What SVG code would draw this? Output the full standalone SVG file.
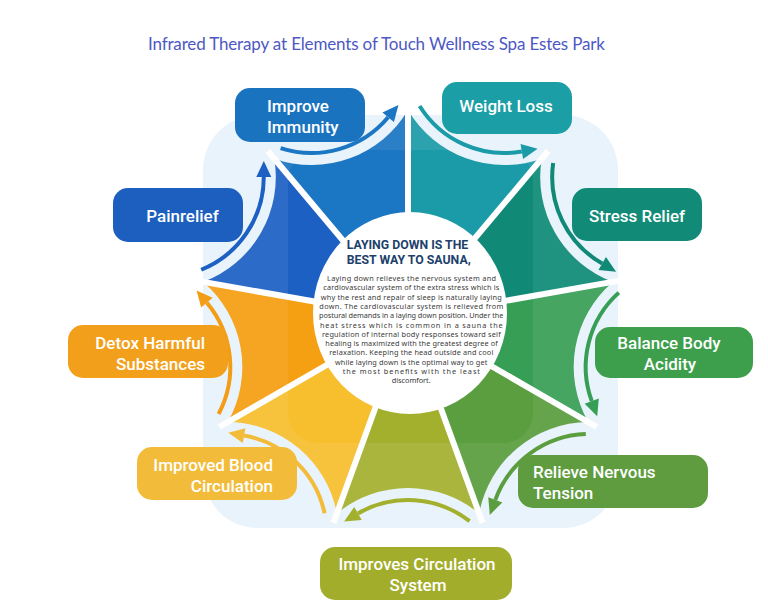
<svg xmlns="http://www.w3.org/2000/svg" width="768" height="610" viewBox="0 0 768 610">
<defs>
<path id="seg" d="M0,0 L-71.14,-195.46 A112,112 0 0 0 71.14,-195.46 Z"/>
<g id="arr">
<path d="M-61.6,-203.2 A100,100 0 0 0 50,-195.4" fill="none" stroke="currentColor" stroke-width="4"/>
<polygon points="63.9,-203.4 53.75,-188.9 46.25,-201.9" fill="currentColor"/>
</g>
</defs>
<style>
.lbl{font-family:Roboto,"Open Sans",sans-serif;font-size:17px;font-weight:500;fill:#ffffff}
.body{font-family:"Noto Sans","Open Sans",sans-serif;font-size:7.3px;fill:#3a3a3a}
.head{font-family:Roboto,"Liberation Sans",sans-serif;font-size:12.5px;font-weight:700;fill:#213f6b}
.gap{stroke:#ffffff;stroke-width:6}
</style>
<rect width="768" height="610" fill="#ffffff"/>
<text x="376.5" y="50" text-anchor="middle" font-family="Lato,'Open Sans',sans-serif" font-size="17" fill="#4d58c4" textLength="457" lengthAdjust="spacing">Infrared Therapy at Elements of Touch Wellness Spa Estes Park</text>
<rect x="203" y="115" width="415" height="413" rx="55" fill="#e8f3fb"/>
<g id="wheel">
<use href="#seg" transform="translate(408,318) rotate(20)" fill="#1b9ba7"/>
<use href="#seg" transform="translate(408,318) rotate(60)" fill="#108a77"/>
<use href="#seg" transform="translate(408,318) rotate(100)" fill="#379f55"/>
<use href="#seg" transform="translate(408,318) rotate(140)" fill="#5b9e3f"/>
<use href="#seg" transform="translate(408,318) rotate(180)" fill="#a3b02e"/>
<use href="#seg" transform="translate(408,318) rotate(220)" fill="#f7bf2e"/>
<use href="#seg" transform="translate(408,318) rotate(260)" fill="#f59f12"/>
<use href="#seg" transform="translate(408,318) rotate(300)" fill="#1c60c3"/>
<use href="#seg" transform="translate(408,318) rotate(340)" fill="#1b76c3"/>
<path d="M203,170 A55,55 0 0 1 258,115 H563 A55,55 0 0 1 618,170 V473 A55,55 0 0 1 563,528 H258 A55,55 0 0 1 203,473 Z M318,150 A30,30 0 0 0 288,180 V413 A30,30 0 0 0 318,443 H503 A30,30 0 0 0 533,413 V180 A30,30 0 0 0 503,150 Z" fill="#ffffff" fill-opacity="0.07" fill-rule="evenodd"/>
<g class="gap">
<line x1="408" y1="318" x2="408" y2="100" transform="rotate(0,408,318)"/>
<line x1="408" y1="318" x2="408" y2="100" transform="rotate(40,408,318)"/>
<line x1="408" y1="318" x2="408" y2="100" transform="rotate(80,408,318)"/>
<line x1="408" y1="318" x2="408" y2="100" transform="rotate(120,408,318)"/>
<line x1="408" y1="318" x2="408" y2="100" transform="rotate(160,408,318)"/>
<line x1="408" y1="318" x2="408" y2="100" transform="rotate(200,408,318)"/>
<line x1="408" y1="318" x2="408" y2="100" transform="rotate(240,408,318)"/>
<line x1="408" y1="318" x2="408" y2="100" transform="rotate(280,408,318)"/>
<line x1="408" y1="318" x2="408" y2="100" transform="rotate(320,408,318)"/>
</g>
</g>
<g id="connectors">
<use href="#arr" transform="translate(408,318) rotate(20)" style="color:#1b9ba7"/>
<use href="#arr" transform="translate(408,318) rotate(60)" style="color:#108a77"/>
<use href="#arr" transform="translate(408,318) rotate(100)" style="color:#379f55"/>
<use href="#arr" transform="translate(408,318) rotate(140)" style="color:#5b9e3f"/>
<use href="#arr" transform="translate(408,318) rotate(180)" style="color:#a3b02e"/>
<use href="#arr" transform="translate(408,318) rotate(220)" style="color:#f2bc3a"/>
<use href="#arr" transform="translate(408,318) rotate(260)" style="color:#f39d16"/>
<use href="#arr" transform="translate(408,318) rotate(300)" style="color:#1c60c3"/>
<use href="#arr" transform="translate(408,318) rotate(340)" style="color:#1b76c3"/>
</g>
<g id="center">
<ellipse cx="410" cy="313" rx="97" ry="101" fill="#ffffff"/>
<text class="head" x="346.7" y="249" textLength="121.6" lengthAdjust="spacingAndGlyphs">LAYING DOWN IS THE</text>
<text class="head" x="346.7" y="264" textLength="124" lengthAdjust="spacingAndGlyphs">BEST WAY TO SAUNA,</text>
<text class="body" x="327" y="281" textLength="169" lengthAdjust="spacing">Laying down relieves the nervous system and</text>
<text class="body" x="323.3" y="290.3" textLength="176" lengthAdjust="spacing">cardiovascular system of the extra stress which is</text>
<text class="body" x="320.7" y="299.6" textLength="181" lengthAdjust="spacing">why the rest and repair of sleep is naturally laying</text>
<text class="body" x="319.3" y="308.9" textLength="184" lengthAdjust="spacing">down. The cardiovascular system is relieved from</text>
<text class="body" x="319" y="318.2" textLength="184.3" lengthAdjust="spacing">postural demands in a laying down position. Under the</text>
<text class="body" x="320" y="327.5" textLength="182.7" lengthAdjust="spacing">heat stress which is common in a sauna the</text>
<text class="body" x="322" y="336.8" textLength="178.7" lengthAdjust="spacing">regulation of internal body responses toward self</text>
<text class="body" x="325.3" y="346.1" textLength="172.4" lengthAdjust="spacing">healing is maximized with the greatest degree of</text>
<text class="body" x="329.3" y="355.4" textLength="164" lengthAdjust="spacing">relaxation. Keeping the head outside and cool</text>
<text class="body" x="335" y="364.7" textLength="152.3" lengthAdjust="spacing">while laying down is the optimal way to get</text>
<text class="body" x="342.7" y="374" textLength="137.3" lengthAdjust="spacing">the most benefits with the least</text>
<text class="body" x="391.7" y="383.3" textLength="39" lengthAdjust="spacing">discomfort.</text>
</g>
<g id="n-immunity">
<rect x="235" y="88" width="130" height="54" rx="15" fill="#1a73bf"/>
<text class="lbl" x="267" y="112">Improve</text>
<text class="lbl" x="267" y="133">Immunity</text>
</g>
<g id="n-weight">
<rect x="442" y="82" width="130" height="52" rx="15" fill="#1c9ea6"/>
<text class="lbl" x="506" y="112" text-anchor="middle">Weight Loss</text>
</g>
<g id="n-stress">
<rect x="572" y="188" width="130" height="53" rx="15" fill="#118a78"/>
<text class="lbl" x="637" y="222" text-anchor="middle">Stress Relief</text>
</g>
<g id="n-balance">
<rect x="595" y="327" width="158" height="51" rx="15" fill="#3d9f4c"/>
<text class="lbl" x="669" y="349" text-anchor="middle">Balance Body</text>
<text class="lbl" x="670" y="370" text-anchor="middle">Acidity</text>
</g>
<g id="n-nervous">
<rect x="518" y="455" width="190" height="53" rx="15" fill="#5e9c3f"/>
<text class="lbl" x="533" y="478">Relieve Nervous</text>
<text class="lbl" x="533" y="499">Tension</text>
</g>
<g id="n-circsys">
<rect x="320" y="547" width="192" height="53" rx="15" fill="#a3ad2c"/>
<text class="lbl" x="417" y="569.5" text-anchor="middle">Improves Circulation</text>
<text class="lbl" x="418" y="590.5" text-anchor="middle">System</text>
</g>
<g id="n-blood">
<rect x="137" y="447" width="160" height="53" rx="15" fill="#f2bc3a"/>
<text class="lbl" x="273" y="471" text-anchor="end">Improved Blood</text>
<text class="lbl" x="273" y="492" text-anchor="end">Circulation</text>
</g>
<g id="n-detox">
<rect x="68" y="325" width="160" height="53" rx="15" fill="#f2a01c"/>
<text class="lbl" x="205" y="349" text-anchor="end">Detox Harmful</text>
<text class="lbl" x="205" y="370" text-anchor="end">Substances</text>
</g>
<g id="n-pain">
<rect x="113" y="188" width="130" height="54" rx="15" fill="#1d5fbf"/>
<text class="lbl" x="182.5" y="222" text-anchor="middle">Painrelief</text>
</g>
</svg>
